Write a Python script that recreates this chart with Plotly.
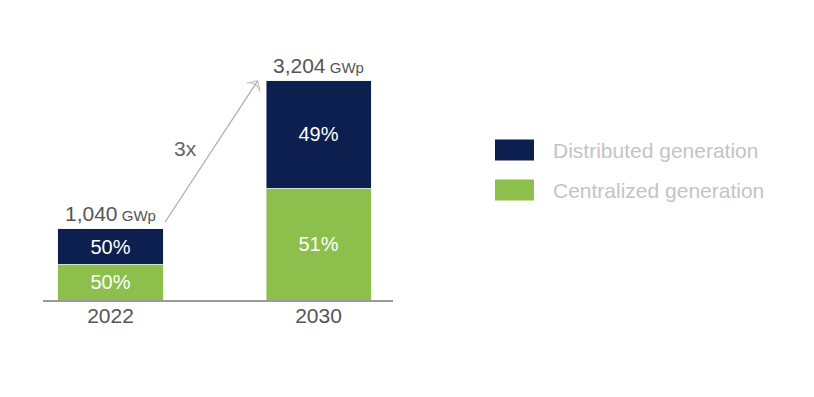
import plotly.graph_objects as go

years = ["2022", "2030"]
totals = [1040, 3204]
dist_pct = [50, 49]
cent_pct = [50, 51]
series_names = ["Distributed generation", "Centralized generation"]
growth_label = "3x"

NAVY = "#0c1f4f"
GREEN = "#8cbf4b"
FONT = "Liberation Sans"

xpos = [0, 1]
dist_vals = [t * p / 100 for t, p in zip(totals, dist_pct)]
cent_vals = [t * p / 100 for t, p in zip(totals, cent_pct)]
BW = 0.505

fig = go.Figure()
fig.add_trace(go.Bar(x=xpos, y=cent_vals, name=series_names[1], marker_color=GREEN,
                     width=BW, text=[f"{p}%" for p in cent_pct], textposition="inside",
                     insidetextanchor="middle",
                     textfont=dict(color="white", size=20, family=FONT), hoverinfo="skip"))
fig.add_trace(go.Bar(x=xpos, y=dist_vals, name=series_names[0], marker_color=NAVY,
                     width=BW, text=[f"{p}%" for p in dist_pct], textposition="inside",
                     insidetextanchor="middle",
                     textfont=dict(color="white", size=20, family=FONT), hoverinfo="skip"))

# total labels
for x, t in zip(xpos, totals):
    fig.add_annotation(x=x, y=t, xref="x", yref="y", showarrow=False, yanchor="bottom", yshift=2,
                       text=f"{t:,}<span style='font-size:15px'> GWp</span>",
                       font=dict(size=21, color="#555555", family=FONT))

# growth arrow
x0 = xpos[0] + BW / 2 + 0.01
x1 = xpos[1] - BW / 2 - 0.04
fig.add_trace(go.Scatter(x=[x0, x1], y=[totals[0] + 100, totals[1]], mode="lines+markers",
                         line=dict(color="#aaaaaa", width=1.2),
                         marker=dict(symbol=["circle", "arrow-wide-open"], size=[0, 11],
                                     angleref="previous", color="#aaaaaa",
                                     line=dict(color="#aaaaaa", width=1.2)),
                         showlegend=False, hoverinfo="skip"))
fig.add_annotation(x=0.36, y=2220, xref="x", yref="y", showarrow=False, text=growth_label,
                   font=dict(size=21, color="#666666", family=FONT))

# legend (drawn)
colors = [NAVY, GREEN]
ys = [150, 190]
for name, c, yc in zip(series_names, colors, ys):
    fig.add_shape(type="rect", xref="paper", yref="paper",
                  x0=(495 - 43) / 350, x1=(534 - 43) / 350,
                  y0=(300 - (yc + 10.5)) / 260, y1=(300 - (yc - 10.5)) / 260,
                  fillcolor=c, line_width=0)
    fig.add_annotation(xref="paper", yref="paper", x=(551 - 43) / 350, y=(300 - yc) / 260,
                       xanchor="left", yanchor="middle", showarrow=False, text=name,
                       font=dict(size=21, color="#c4c4c4", family=FONT))

fig.update_layout(
    width=814, height=397, barmode="stack", showlegend=False,
    margin=dict(l=35, r=429, t=32, b=105),
    plot_bgcolor="white", paper_bgcolor="white",
    xaxis=dict(range=[-0.3245, 1.358], tickvals=xpos, ticktext=years, showgrid=False,
               zeroline=False, showline=True, linecolor="#9a9a9a", linewidth=2,
               tickfont=dict(size=21, color="#555555", family=FONT), ticks="",
               ticklabelstandoff=-4),
    yaxis=dict(range=[0, 3800], visible=False, showgrid=False, zeroline=False),
    font=dict(family=FONT),
)

fig.write_html("out.html")
